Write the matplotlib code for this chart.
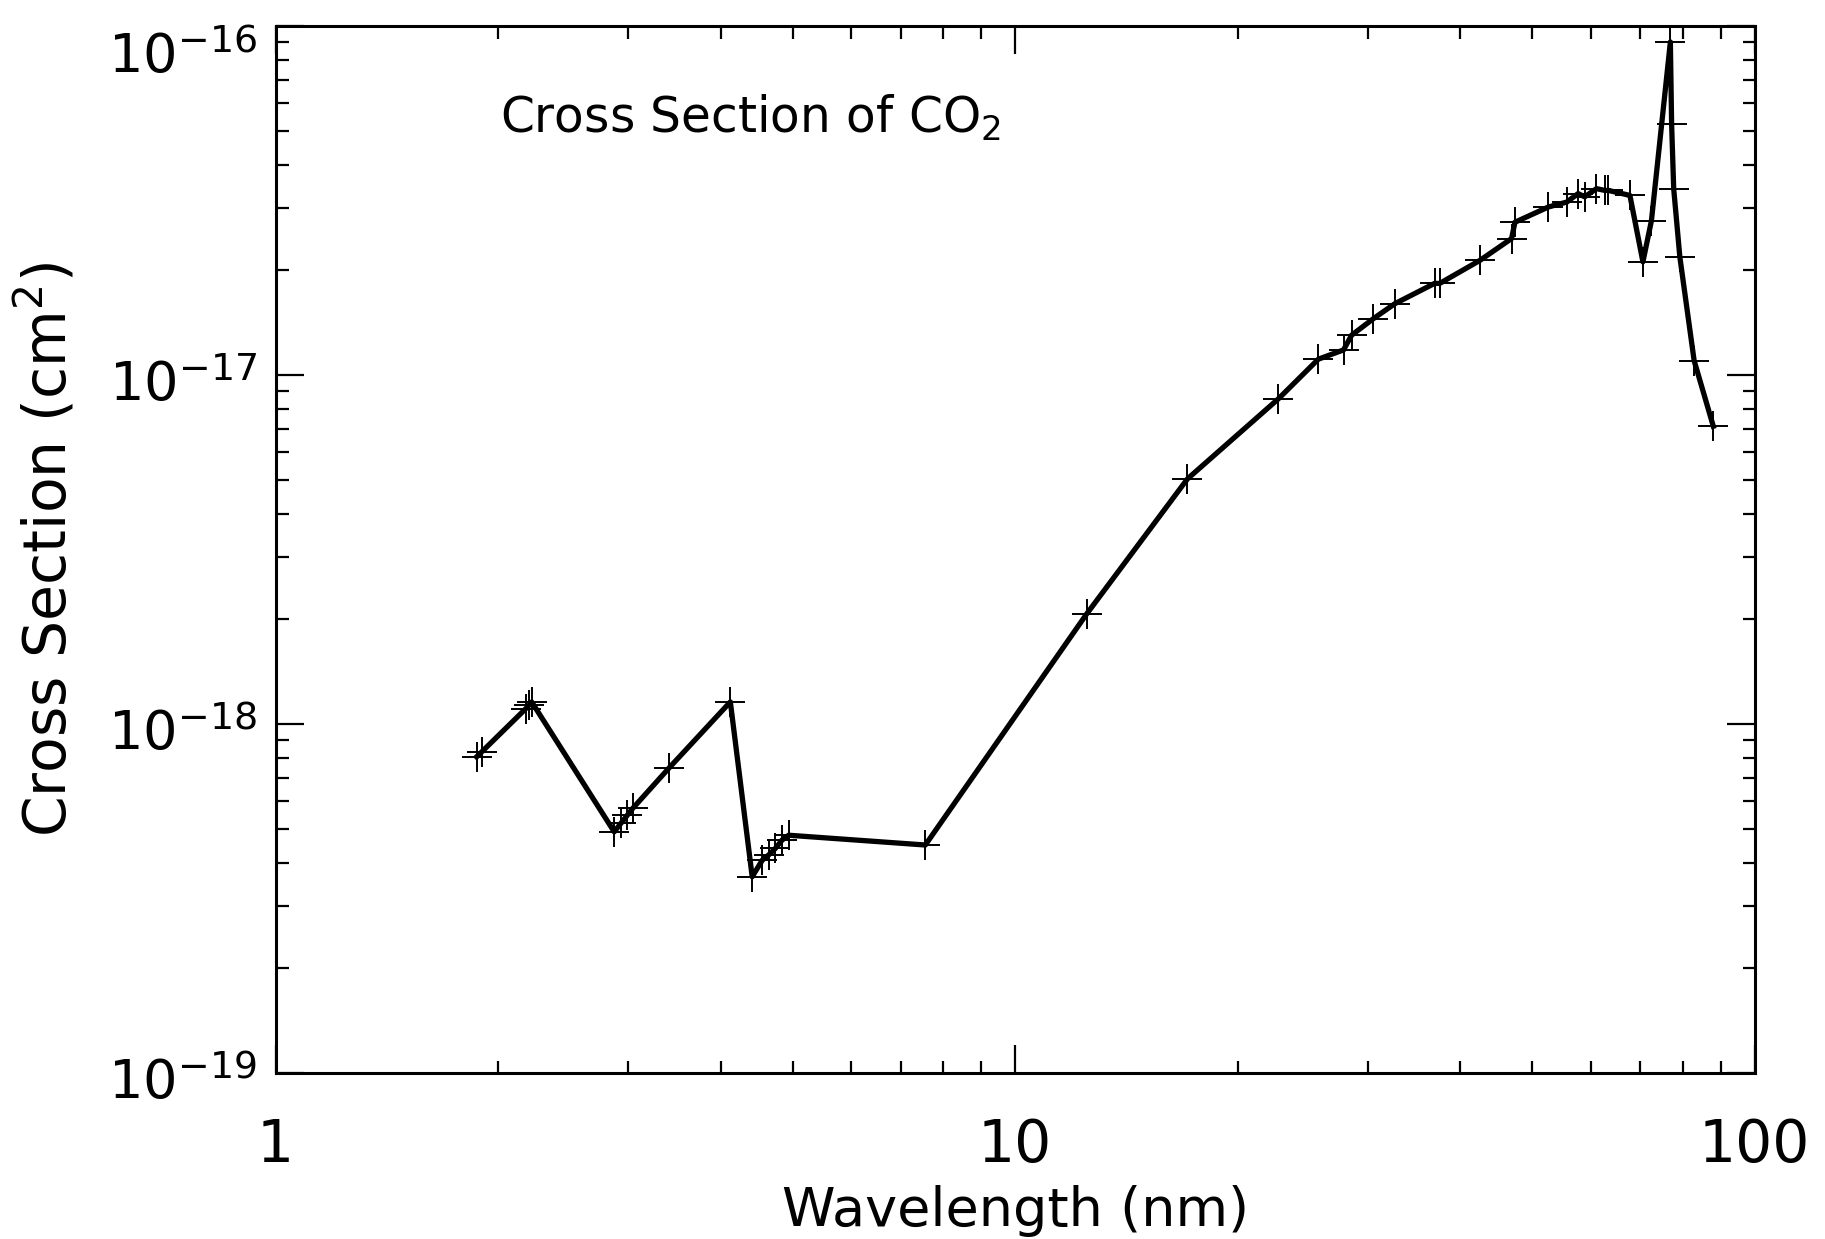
import matplotlib
matplotlib.use('Agg')
import matplotlib.pyplot as plt
import matplotlib.transforms as mtransforms
from matplotlib.ticker import LogLocator, NullFormatter, FixedLocator, FixedFormatter

# CO2 photoabsorption cross section (wavelength in nm, cross section in cm^2)
wavelength = [1.87, 1.90, 2.18, 2.20, 2.22, 2.87, 2.93, 2.99, 3.04, 3.40,
              4.12, 4.41, 4.55, 4.64, 4.74, 4.84, 4.94, 7.56, 12.5, 17.1,
              22.7, 25.7, 27.8, 28.5, 30.5, 32.6, 36.9, 37.5, 42.5, 46.9,
              47.4, 52.6, 55.7, 57.7, 58.9, 61.1, 62.7, 63.4, 67.8, 70.6,
              72.5, 76.9, 77.2, 77.7, 79.2, 82.8, 87.9]
cross_section = [0.805e-18, 0.832e-18, 1.107e-18, 1.13e-18, 1.156e-18,
                 0.491e-18, 0.519e-18, 0.548e-18, 0.573e-18, 0.746e-18,
                 1.157e-18, 0.365e-18, 0.407e-18, 0.421e-18, 0.440e-18,
                 0.465e-18, 0.480e-18, 0.450e-18, 2.07e-18, 5.04e-18,
                 8.55e-18, 11.1e-18, 11.8e-18, 13.0e-18, 14.5e-18,
                 16.0e-18, 18.3e-18, 18.3e-18, 21.3e-18, 24.6e-18,
                 27.4e-18, 30.3e-18, 31.3e-18, 33.1e-18, 32.4e-18,
                 34.2e-18, 33.8e-18, 33.8e-18, 32.7e-18, 21.1e-18,
                 27.7e-18, 90.0e-18, 52.3e-18, 34.2e-18, 21.8e-18,
                 11.0e-18, 7.13e-18]

x_ticks = [1, 10, 100]
x_tick_labels = ['1', '10', '100']
y_ticks = [1e-19, 1e-18, 1e-17, 1e-16]
y_tick_labels = ['$10^{-19}$', '$10^{-18}$', '$10^{-17}$', '$10^{-16}$']

plt.rcParams['font.family'] = ['DejaVu Sans']
plt.rcParams['mathtext.fontset'] = 'dejavusans'

fig = plt.figure(figsize=(18.25, 12.39), dpi=100)
fig.set_facecolor('white')
ax = fig.add_axes([0.151, 0.134, 0.8105, 0.845])

# line plus '+' symbols at each measured point
ax.plot(wavelength, cross_section, color='black', linewidth=3.8,
        marker='+', markersize=22, markeredgewidth=1.4)

ax.set_xscale('log')
ax.set_yscale('log')
ax.set_xlim(1, 100)
ax.set_ylim(1e-19, 1e-16)

ax.xaxis.set_major_locator(FixedLocator(x_ticks))
ax.xaxis.set_major_formatter(FixedFormatter(x_tick_labels))
ax.xaxis.set_minor_locator(LogLocator(base=10, subs=range(2, 10)))
ax.xaxis.set_minor_formatter(NullFormatter())
ax.yaxis.set_major_locator(FixedLocator(y_ticks))
ax.yaxis.set_major_formatter(NullFormatter())
ax.yaxis.set_minor_locator(LogLocator(base=10, subs=range(2, 10)))
ax.yaxis.set_minor_formatter(NullFormatter())

for side in ax.spines.values():
    side.set_linewidth(2.2)

ax.tick_params(which='both', direction='in', top=True, right=True)
ax.tick_params(which='major', length=20, width=1.6)
ax.tick_params(which='minor', length=9, width=1.6)
ax.tick_params(axis='x', which='major', pad=32, labelsize=42)

# y tick labels: "10" sits on the tick, exponent above; top one pushed inside the figure
ylab_trans = mtransforms.blended_transform_factory(ax.transAxes, ax.transData)
for val, lab in zip(y_ticks, y_tick_labels):
    shift = -19 if val < 1e-16 else -34
    tr = ylab_trans + mtransforms.ScaledTranslation(0, shift / 72, fig.dpi_scale_trans)
    ax.text(-0.0126, val, lab, transform=tr, ha='right', va='baseline',
            fontsize=39, clip_on=False)

ax.set_xlabel('Wavelength (nm)', fontsize=39)
ax.xaxis.set_label_coords(0.5, -0.107)
ax.set_ylabel('Cross Section (cm$^2$)', fontsize=42)
ax.yaxis.set_label_coords(-0.133, 0.5)

ax.text(0.152, 0.898, 'Cross Section of CO$_2$', transform=ax.transAxes,
        fontsize=35, ha='left', va='baseline')

plt.savefig('out.png', dpi=100, facecolor='white')
